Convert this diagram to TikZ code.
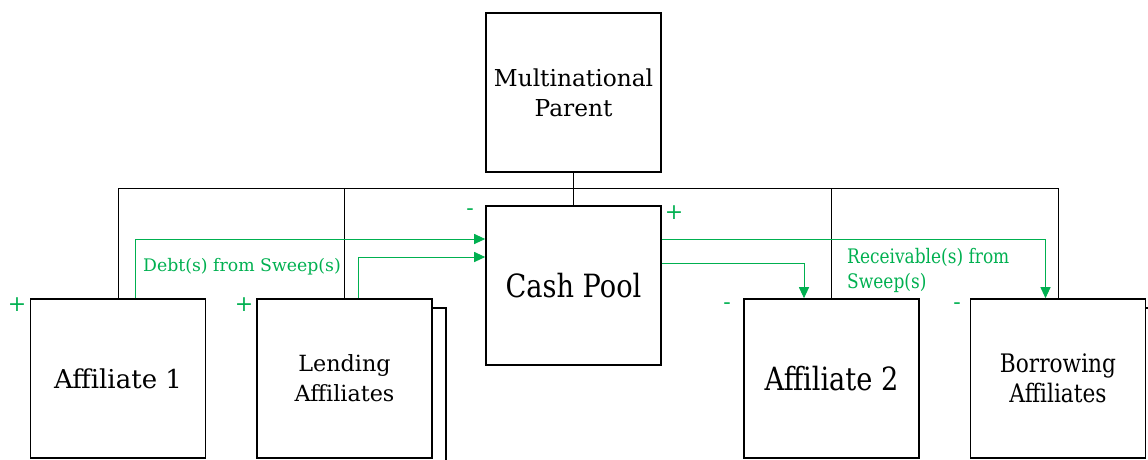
\documentclass[tikz,border=0pt]{standalone}
\usepackage{fontspec}
\setmainfont{DejaVu Serif}
\newfontfamily\condserif[FakeStretch=0.85]{DejaVu Serif}
\usetikzlibrary{arrows.meta}
\definecolor{pgreen}{HTML}{00B050}
\tikzset{
  box/.style={draw=black, line width=1.6pt, fill=white, minimum width=175pt, minimum height=159pt, inner sep=2pt, align=center, text=black},
  shadowline/.style={draw=black, line width=1.6pt},
  link/.style={draw=black, line width=0.8pt},
  flow/.style={draw=pgreen, line width=1pt, -{Triangle[length=11pt,width=10pt]}},
  sign/.style={text=pgreen, font=\fontsize{22}{22}\selectfont, inner sep=0pt},
  lbl/.style={text=pgreen, inner sep=0pt, align=left}
}
\begin{document}
\begin{tikzpicture}[x=1pt, y=-1pt]
\useasboundingbox (0,0) rectangle (1148,459);
\clip (0,0) rectangle (1148,459);
% shadows
\fill[white] (271,308) rectangle (446,470);
\draw[shadowline] (271,308) -- (446,308) -- (446,470);
\fill[white] (984,308) rectangle (1160,470);
\draw[shadowline] (984,308) -- (1160,308);
% boxes
\node[box, font=\fontsize{23.3}{30}\selectfont] (parent) at (573.5,92.5) {Multinational\\Parent};
\node[box, font=\condserif\fontsize{32}{34}\selectfont] (pool) at (573.5,285.5) {Cash Pool};
\node[box, font=\fontsize{26}{30}\selectfont] (a1) at (118,378.5) {Affiliate 1};
\node[box, font=\fontsize{22.3}{30}\selectfont] (lend) at (344.5,378.5) {Lending\\Affiliates};
\node[box, font=\condserif\fontsize{32}{34}\selectfont] (a2) at (831.5,378.5) {Affiliate 2};
\node[box, font=\condserif\fontsize{25.5}{30}\selectfont] (borr) at (1058,378.5) {Borrowing\\Affiliates};
% bus
\coordinate (busL) at (118,188);
\coordinate (busR) at (1058,188);
\coordinate (busM) at (573.5,188);
\draw[link] (busL) -- (busR);
\draw[link] (parent.south) -- (busM) -- (pool.north);
\draw[link] (busL) -- (a1.north);
\draw[link] (lend.north |- busL) -- (lend.north);
\draw[link] (a2.north |- busL) -- (a2.north);
\draw[link] (busR) -- (borr.north);
% flows
\draw[flow] ([xshift=17pt]a1.north) |- ([yshift=46.5pt]pool.west);
\draw[flow] ([xshift=13.5pt]lend.north) |- ([yshift=28.5pt]pool.west);
\draw[flow] ([yshift=46.5pt]pool.east) -| ([xshift=-12.5pt]borr.north);
\draw[flow] ([yshift=22pt]pool.east) -| ([xshift=-27.5pt]a2.north);
% labels
\node[lbl, anchor=base west, font=\fontsize{17.3}{20}\selectfont] (debt) at (143,271) {Debt(s) from Sweep(s)};
\node[lbl, anchor=base west, font=\condserif\fontsize{20}{25}\selectfont] (recv) at (847,288) {Receivable(s) from\\Sweep(s)};
% signs
\node[sign] (s1) at (17,305) {+};
\node[sign] (s2) at (244,305) {+};
\node[sign] (s3) at (470,212) {-};
\node[sign] (s4) at (674,213) {+};
\node[sign] (s5) at (727,306) {-};
\node[sign] (s6) at (957,306) {-};
\end{tikzpicture}
\end{document}
